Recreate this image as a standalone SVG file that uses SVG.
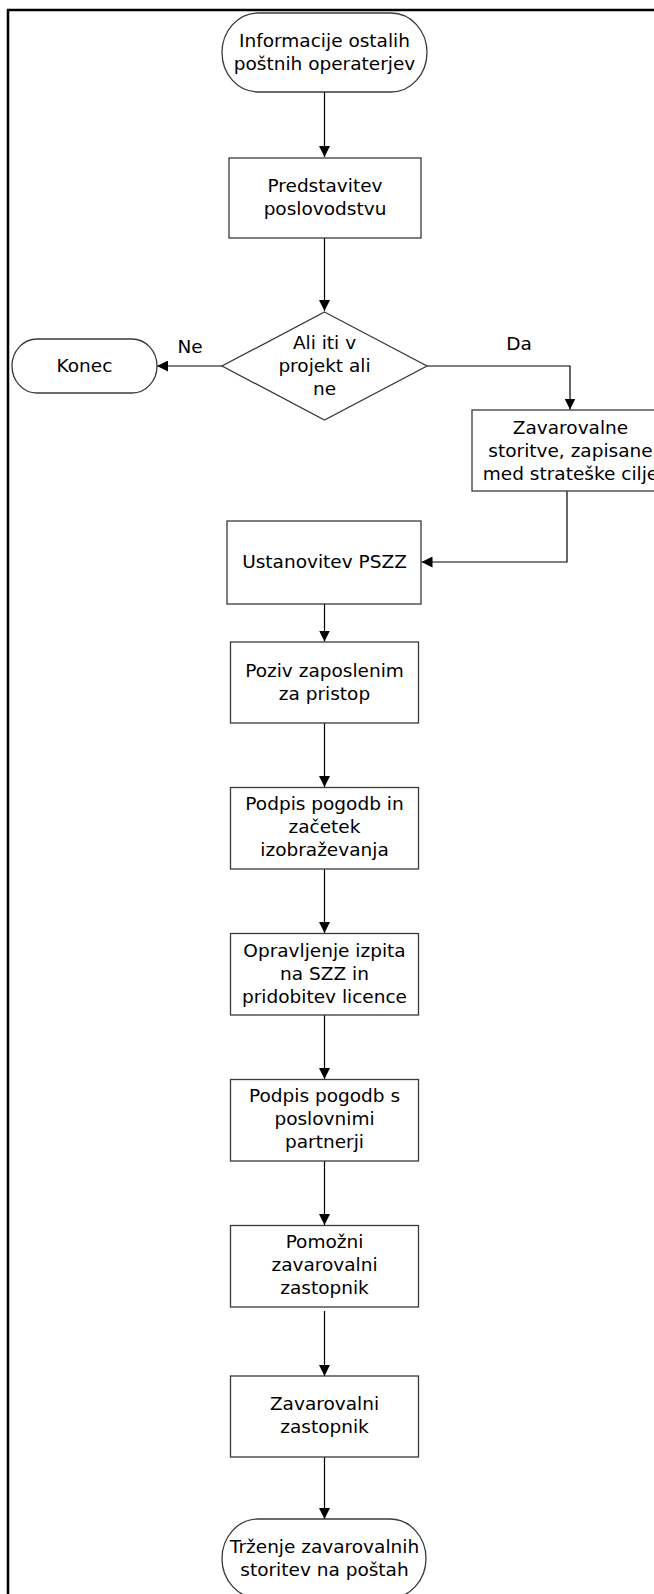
<svg xmlns="http://www.w3.org/2000/svg" width="654" height="1594" viewBox="0 0 654 1594">
  <defs>
    <style>
      .shape { fill: #ffffff; stroke: #3a3a3a; stroke-width: 1.3; }
      .wire { fill: none; stroke: #000000; stroke-width: 1.2; }
      .lbl { font-family: "DejaVu Sans", "Liberation Sans", sans-serif; font-size: 18.5px; fill: #000000; text-anchor: middle; }
      .frame { fill: none; stroke: #000000; stroke-width: 2.5; }
    </style>
    <marker id="arrow" markerUnits="userSpaceOnUse" markerWidth="11" markerHeight="11" refX="11" refY="5.5" orient="auto">
      <path d="M0,0 L11,5.5 L0,11 Z" fill="#000000"/>
    </marker>
  </defs>

  <rect width="654" height="1594" fill="#ffffff"/>

  <!-- page frame (left and top edges) -->
  <path class="frame" d="M8,1594 V10 H654"/>

  <!-- connectors -->
  <g id="connectors">
    <path class="wire" d="M324.5,92 V157" marker-end="url(#arrow)"/>
    <path class="wire" d="M324.5,238 V311" marker-end="url(#arrow)"/>
    <path class="wire" d="M222,366 H157" marker-end="url(#arrow)"/>
    <path class="wire" d="M427,366 H570 V409.5" marker-end="url(#arrow)"/>
    <path class="wire" d="M567,491 V562 H421.5" marker-end="url(#arrow)"/>
    <path class="wire" d="M324.5,604 V641.5" marker-end="url(#arrow)"/>
    <path class="wire" d="M324.5,723 V787" marker-end="url(#arrow)"/>
    <path class="wire" d="M324.5,869 V933" marker-end="url(#arrow)"/>
    <path class="wire" d="M324.5,1015 V1079" marker-end="url(#arrow)"/>
    <path class="wire" d="M324.5,1161 V1225" marker-end="url(#arrow)"/>
    <path class="wire" d="M324.5,1311 V1376" marker-end="url(#arrow)"/>
    <path class="wire" d="M324.5,1457 V1519" marker-end="url(#arrow)"/>
    <text class="lbl" x="190" y="353">Ne</text>
    <text class="lbl" x="519" y="350">Da</text>
  </g>

  <g id="start">
    <rect class="shape" x="222" y="13" width="205" height="79" rx="36" ry="39.5"/>
    <text class="lbl" x="324.5" y="47">Informacije ostalih</text>
    <text class="lbl" x="324.5" y="70">poštnih operaterjev</text>
  </g>

  <g id="predstavitev">
    <rect class="shape" x="229" y="158" width="192" height="80"/>
    <text class="lbl" x="325" y="192">Predstavitev</text>
    <text class="lbl" x="325" y="215">poslovodstvu</text>
  </g>

  <g id="odlocitev">
    <polygon class="shape" points="324.5,312 427,366 324.5,420 222,366"/>
    <text class="lbl" x="324.5" y="349">Ali iti v</text>
    <text class="lbl" x="324.5" y="372">projekt ali</text>
    <text class="lbl" x="324.5" y="395">ne</text>
  </g>

  <g id="konec">
    <rect class="shape" x="12" y="339" width="145" height="54" rx="25" ry="27"/>
    <text class="lbl" x="84.5" y="372">Konec</text>
  </g>

  <g id="strateski-cilji">
    <rect class="shape" x="472" y="410" width="200" height="81"/>
    <text class="lbl" x="570.5" y="434">Zavarovalne</text>
    <text class="lbl" x="570.5" y="457">storitve, zapisane</text>
    <text class="lbl" x="570.5" y="480">med strateške cilje</text>
  </g>

  <g id="ustanovitev">
    <rect class="shape" x="227" y="521" width="194" height="83"/>
    <text class="lbl" x="324.5" y="568">Ustanovitev PSZZ</text>
  </g>

  <g id="poziv">
    <rect class="shape" x="230.5" y="642" width="188" height="81"/>
    <text class="lbl" x="324.5" y="677">Poziv zaposlenim</text>
    <text class="lbl" x="324.5" y="700">za pristop</text>
  </g>

  <g id="podpis-izobrazevanje">
    <rect class="shape" x="230.5" y="787.5" width="188" height="81.5"/>
    <text class="lbl" x="324.5" y="810">Podpis pogodb in</text>
    <text class="lbl" x="324.5" y="833">začetek</text>
    <text class="lbl" x="324.5" y="856">izobraževanja</text>
  </g>

  <g id="izpit">
    <rect class="shape" x="230.5" y="933.5" width="188" height="81.5"/>
    <text class="lbl" x="324.5" y="957">Opravljenje izpita</text>
    <text class="lbl" x="324.5" y="980">na SZZ in</text>
    <text class="lbl" x="324.5" y="1003">pridobitev licence</text>
  </g>

  <g id="partnerji">
    <rect class="shape" x="230.5" y="1079.5" width="188" height="81.5"/>
    <text class="lbl" x="324.5" y="1102">Podpis pogodb s</text>
    <text class="lbl" x="324.5" y="1125">poslovnimi</text>
    <text class="lbl" x="324.5" y="1148">partnerji</text>
  </g>

  <g id="pomozni-zastopnik">
    <rect class="shape" x="230.5" y="1225.5" width="188" height="81.5"/>
    <text class="lbl" x="324.5" y="1248">Pomožni</text>
    <text class="lbl" x="324.5" y="1271">zavarovalni</text>
    <text class="lbl" x="324.5" y="1294">zastopnik</text>
  </g>

  <g id="zastopnik">
    <rect class="shape" x="230.5" y="1376" width="188" height="81"/>
    <text class="lbl" x="324.5" y="1410">Zavarovalni</text>
    <text class="lbl" x="324.5" y="1433">zastopnik</text>
  </g>

  <g id="trzenje">
    <rect class="shape" x="222" y="1519" width="204" height="79" rx="36" ry="39.5"/>
    <text class="lbl" x="324.5" y="1553">Trženje zavarovalnih</text>
    <text class="lbl" x="324.5" y="1576">storitev na poštah</text>
  </g>
</svg>
